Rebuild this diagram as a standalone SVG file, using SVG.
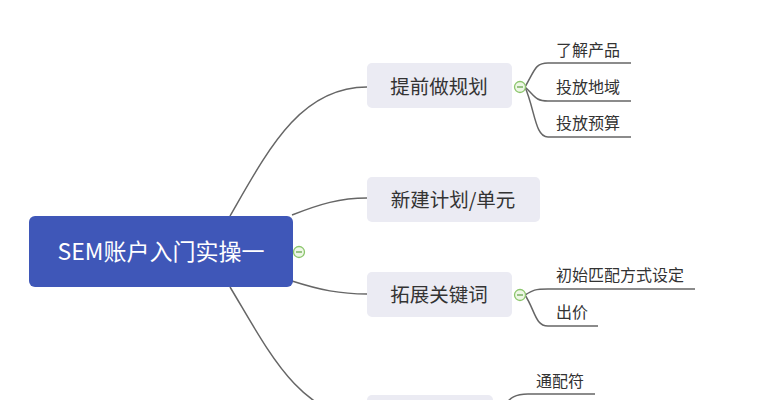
<svg xmlns="http://www.w3.org/2000/svg" width="767" height="400" viewBox="0 0 767 400">
<style>
.t{font-family:"Noto Sans CJK SC","Noto Sans",sans-serif;fill:#333}
.main{font-size:19.5px}
.sub{font-size:16px}
.box{fill:#ebebf3}
.c{fill:none;stroke:#666;stroke-width:1.5}
.tog{fill:#eef7e6;stroke:#8cc66d;stroke-width:1.3}
.tm{stroke:#6aa84f;stroke-width:1.3}
</style>
<rect width="767" height="400" fill="#fff"/>
<g id="connectors">
<path class="c" d="M230,216 C268,150 300,87 367,87"/>
<path class="c" d="M292,215 C320,204 340,198 367,198"/>
<path class="c" d="M292,281 C320,290 340,294 367,294"/>
<path class="c" d="M230,287 C268,350 300,418 367,418"/>
<path class="c" d="M525,87 C535,70 535,63 548,63 L631,63"/>
<path class="c" d="M525,87 C535,96 535,101 548,101 L631,101"/>
<path class="c" d="M525,87 C535,110 535,137 548,137 L631,137"/>
<path class="c" d="M525,295 C533,290 535,289 548,289 L695,289"/>
<path class="c" d="M525,295 C535,310 535,326 548,326 L598,326"/>
<path class="c" d="M505,405 C510,398 515,394 528,394 L595,394"/>
</g>
<g id="root">
<rect x="29" y="216" width="264" height="71" rx="6" fill="#3f57b8"/>
<text x="161" y="260" text-anchor="middle" font-family="'Noto Sans CJK SC','Noto Sans',sans-serif" font-size="23" fill="#fff">SEM账户入门实操一</text>
<circle class="tog" cx="299" cy="252" r="5.5"/><line class="tm" x1="296" y1="252" x2="302" y2="252"/>
</g>
<g id="n1">
<rect class="box" x="367" y="63" width="145" height="45" rx="5"/>
<text class="t main" x="439" y="94" text-anchor="middle">提前做规划</text>
<circle class="tog" cx="520" cy="87" r="5.5"/><line class="tm" x1="517" y1="87" x2="523" y2="87"/>
</g>
<g id="n1a"><text class="t sub" x="556" y="56">了解产品</text></g>
<g id="n1b"><text class="t sub" x="556" y="93">投放地域</text></g>
<g id="n1c"><text class="t sub" x="556" y="129">投放预算</text></g>
<g id="n2">
<rect class="box" x="367" y="177" width="173" height="45" rx="5"/>
<text class="t main" x="453" y="207" text-anchor="middle">新建计划/单元</text>
</g>
<g id="n3">
<rect class="box" x="367" y="272" width="145" height="45" rx="5"/>
<text class="t main" x="439" y="302" text-anchor="middle">拓展关键词</text>
<circle class="tog" cx="520" cy="295" r="5.5"/><line class="tm" x1="517" y1="295" x2="523" y2="295"/>
</g>
<g id="n3a"><text class="t sub" x="556" y="281">初始匹配方式设定</text></g>
<g id="n3b"><text class="t sub" x="556" y="318">出价</text></g>
<g id="n4">
<rect class="box" x="367" y="395" width="126" height="45" rx="5"/>
</g>
<g id="n4a"><text class="t sub" x="536" y="387">通配符</text></g>
</svg>
